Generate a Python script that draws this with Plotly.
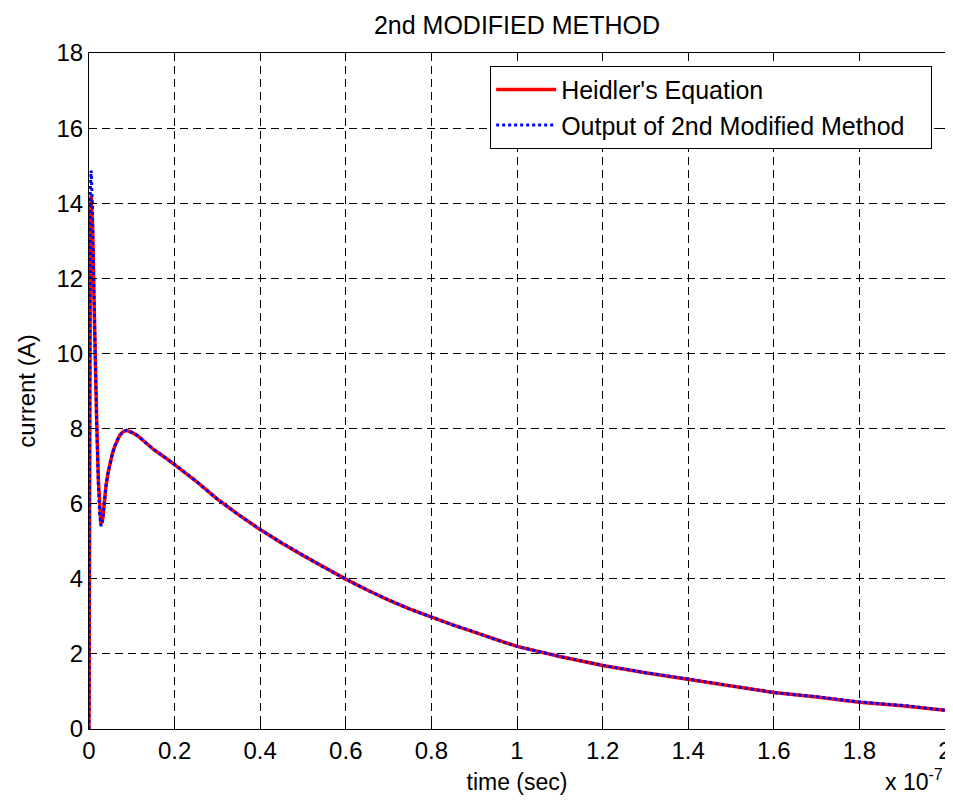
import plotly.graph_objects as go

# time in units of 1e-7 s
t = [0, 0.001, 0.003, 0.005, 0.008, 0.011, 0.014, 0.018, 0.022, 0.025, 0.028,
     0.032, 0.036, 0.04, 0.045, 0.05, 0.055, 0.061, 0.066, 0.072, 0.08, 0.088,
     0.1, 0.115, 0.13, 0.15, 0.175, 0.2, 0.25, 0.3, 0.35, 0.4, 0.45, 0.5, 0.55,
     0.6, 0.65, 0.7, 0.75, 0.8, 0.85, 0.9, 0.95, 1.0, 1.1, 1.2, 1.3, 1.4, 1.5,
     1.6, 1.7, 1.8, 1.9, 2.0]

heidler = [0, 6.0, 13.2, 14.2, 13.5, 11.8, 10.0, 8.2, 6.6, 5.8, 5.45,
           5.6, 6.1, 6.5, 6.85, 7.15, 7.35, 7.55, 7.7, 7.82, 7.92, 7.95,
           7.9, 7.8, 7.65, 7.45, 7.25, 7.04, 6.6, 6.12, 5.7, 5.31, 4.95, 4.62, 4.3,
           3.99, 3.7, 3.43, 3.19, 2.97, 2.77, 2.58, 2.38, 2.2, 1.93, 1.69, 1.5, 1.33, 1.15,
           0.97, 0.85, 0.71, 0.62, 0.5]

modified = [0, 7.0, 14.3, 14.87, 13.9, 12.0, 10.0, 8.1, 6.5, 5.7, 5.4,
            5.55, 6.05, 6.5, 6.85, 7.15, 7.35, 7.55, 7.7, 7.82, 7.92, 7.95,
            7.9, 7.8, 7.65, 7.45, 7.25, 7.05, 6.6, 6.12, 5.7, 5.31, 4.96, 4.62, 4.3,
            3.99, 3.7, 3.44, 3.19, 2.98, 2.77, 2.59, 2.38, 2.2, 1.93, 1.7, 1.5, 1.33, 1.15,
            0.97, 0.86, 0.72, 0.63, 0.5]

x_ticks = [0, 0.2, 0.4, 0.6, 0.8, 1, 1.2, 1.4, 1.6, 1.8, 2]
x_tick_labels = ["0", "0.2", "0.4", "0.6", "0.8", "1", "1.2", "1.4", "1.6", "1.8", "2"]
y_ticks = [0, 2, 4, 6, 8, 10, 12, 14, 16, 18]

font_family = "Liberation Sans, Arial, sans-serif"

fig = go.Figure()
fig.add_trace(go.Scatter(x=t, y=heidler, mode="lines", name="Heidler's Equation",
                         line=dict(color="#ff0000", width=3.5)))
fig.add_trace(go.Scatter(x=t, y=modified, mode="lines",
                         name="Output of 2nd Modified Method\u00a0\u00a0\u00a0",
                         line=dict(color="#0000ff", width=3, dash="dot")))

axis_common = dict(
    showline=True, linecolor="black", linewidth=1, mirror="ticks",
    ticks="inside", ticklen=7, tickcolor="black",
    showgrid=True, gridcolor="black", gridwidth=1, griddash="8px,5px",
    zeroline=False,
    tickfont=dict(family=font_family, size=24, color="black"),
)

fig.update_xaxes(range=[0, 2], tickvals=x_ticks, ticktext=x_tick_labels,
                 ticklabeloverflow="allow",
                 title=dict(text="time (sec)", font=dict(family=font_family, size=23, color="black"),
                            standoff=11),
                 **axis_common)
fig.update_yaxes(range=[0, 18], tickvals=y_ticks,
                 title=dict(text="current (A)", font=dict(family=font_family, size=24, color="black"),
                            standoff=14),
                 **axis_common)

fig.update_layout(
    width=945, height=789,
    margin=dict(l=81, r=8, t=45, b=68, autoexpand=False),
    paper_bgcolor="white", plot_bgcolor="white",
    title=dict(text="2nd MODIFIED METHOD", x=0.5, xref="paper", xanchor="center",
               y=0.9785, yanchor="middle",
               font=dict(family=font_family, size=25, color="black")),
    legend=dict(x=0.985, y=0.981, xanchor="right", yanchor="top",
                bgcolor="white", bordercolor="black", borderwidth=1,
                font=dict(family=font_family, size=25, color="black"),
                itemwidth=60, tracegroupgap=0),
    showlegend=True,
    annotations=[dict(text="x 10<sup>-7</sup>", xref="paper", yref="paper", x=1.0, y=-0.1,
                      xanchor="right", yanchor="bottom", showarrow=False,
                      font=dict(family=font_family, size=23, color="black"))],
)

fig.write_html("out.html")
